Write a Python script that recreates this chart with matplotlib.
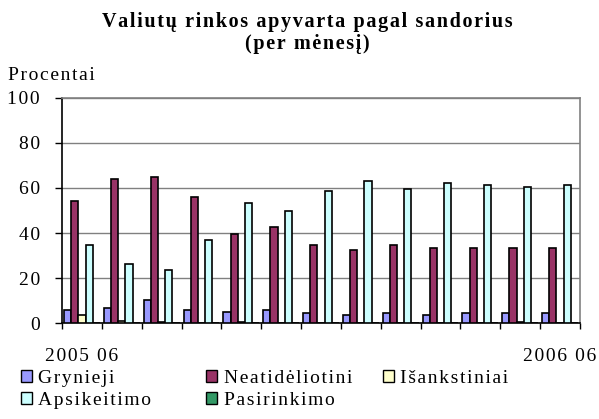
import matplotlib
matplotlib.use("Agg")
import matplotlib.pyplot as plt
from matplotlib.patches import Patch
import matplotlib.transforms as mtrans
import numpy as np

months = ["2005 06", "2005 07", "2005 08", "2005 09", "2005 10", "2005 11", "2005 12",
          "2006 01", "2006 02", "2006 03", "2006 04", "2006 05", "2006 06"]
grynieji = [6.0, 7.0, 10.5, 6.0, 5.1, 6.0, 4.4, 3.5, 4.4, 3.5, 4.4, 4.4, 4.4]
neatideliotini = [54.4, 63.9, 64.9, 56.1, 39.5, 42.8, 34.9, 32.5, 34.8, 33.2, 33.2, 33.2, 33.2]
isankstiniai = [3.5, 0.8, 0.7, 0.2, 0.7, 0.2, 0.1, 0.1, 0.1, 0.1, 0.1, 0.5, 0.1]
apsikeitimo = [34.9, 26.1, 23.7, 36.8, 53.3, 49.8, 58.6, 63.0, 59.5, 62.1, 61.2, 60.5, 61.2]
pasirinkimo = [0.0, 0.0, 0.0, 0.0, 0.0, 0.0, 0.0, 0.0, 0.0, 0.0, 0.0, 0.0, 0.0]
series_names = ["Grynieji", "Neatidėliotini", "Išankstiniai", "Apsikeitimo", "Pasirinkimo"]
colors = ["#9999FF", "#993366", "#FFFFCC", "#CCFFFF", "#339966"]
yticks = [0, 20, 40, 60, 80, 100]
shown_labels = {0: "2005 06", 12: "2006 06"}
title_lines = ["Valiutų rinkos apyvarta pagal sandorius", "(per mėnesį)"]
ylabel = "Procentai"

plt.rcParams['font.family'] = ['Liberation Serif', 'DejaVu Serif']

HS = "\u200a"


def sp(s):
    return HS.join(s)


FS = 14
W, H = 599, 419
fig = plt.figure(figsize=(W / 100, H / 100), dpi=100)
ax = fig.add_axes([62 / W, 1 - 323.3 / H, (580 - 62) / W, (323.3 - 97.7) / H])

data = [grynieji, neatideliotini, isankstiniai, apsikeitimo, pasirinkimo]
n = len(months)
w = 0.18
x0 = np.arange(n)
for k, (vals, c) in enumerate(zip(data, colors)):
    ax.bar(x0 + 0.05 + k * w, vals, width=w, align='edge', color=c,
           edgecolor='black', linewidth=1.2, zorder=3)

ax.set_xlim(0, n)
ax.set_ylim(0, 100)
ax.set_yticks(yticks)
ax.set_yticklabels([sp(str(t)) for t in yticks], fontsize=FS)
ax.yaxis.grid(True, color='#808080', linewidth=1.0, zorder=0)
ax.set_xticks(np.arange(n + 1))
ax.set_xticklabels([])
ax.tick_params(axis='x', direction='out', length=4, width=1)
ax.tick_params(axis='y', direction='out', length=5, width=1, pad=11)
for s in ['top', 'right']:
    ax.spines[s].set_color('#808080')
    ax.spines[s].set_linewidth(1.2)
for s in ['left', 'bottom']:
    ax.spines[s].set_color('black')
    ax.spines[s].set_linewidth(1.2)

blend = mtrans.blended_transform_factory(ax.transData, fig.transFigure)
for i, lab in shown_labels.items():
    ax.text(i + 0.5, 1 - 356 / H, sp(lab), transform=blend,
            ha='center', va='center', fontsize=FS)

fig.text(307 / W, 1 - 22 / H, sp(title_lines[0]),
         ha='center', va='center', fontsize=14.5, fontweight='bold')
fig.text(307 / W, 1 - 44 / H, sp(title_lines[1]),
         ha='center', va='center', fontsize=14.5, fontweight='bold')
fig.text(8 / W, 1 - 75 / H, sp(ylabel), ha='left', va='center', fontsize=FS)

handles = [Patch(facecolor=c, edgecolor='black', linewidth=1) for c in colors]
cols = [(21, [0, 3]), (206, [1, 4]), (383, [2])]
for xpx, idx in cols:
    fig.legend([handles[i] for i in idx], [sp(series_names[i]) for i in idx],
               loc='upper left', bbox_to_anchor=(xpx / W, 1 - 370 / H),
               frameon=False, fontsize=FS, handlelength=0.55, handleheight=0.55,
               handletextpad=0.35, borderpad=0, borderaxespad=0, labelspacing=0.25)

fig.savefig("out.png", dpi=100)
